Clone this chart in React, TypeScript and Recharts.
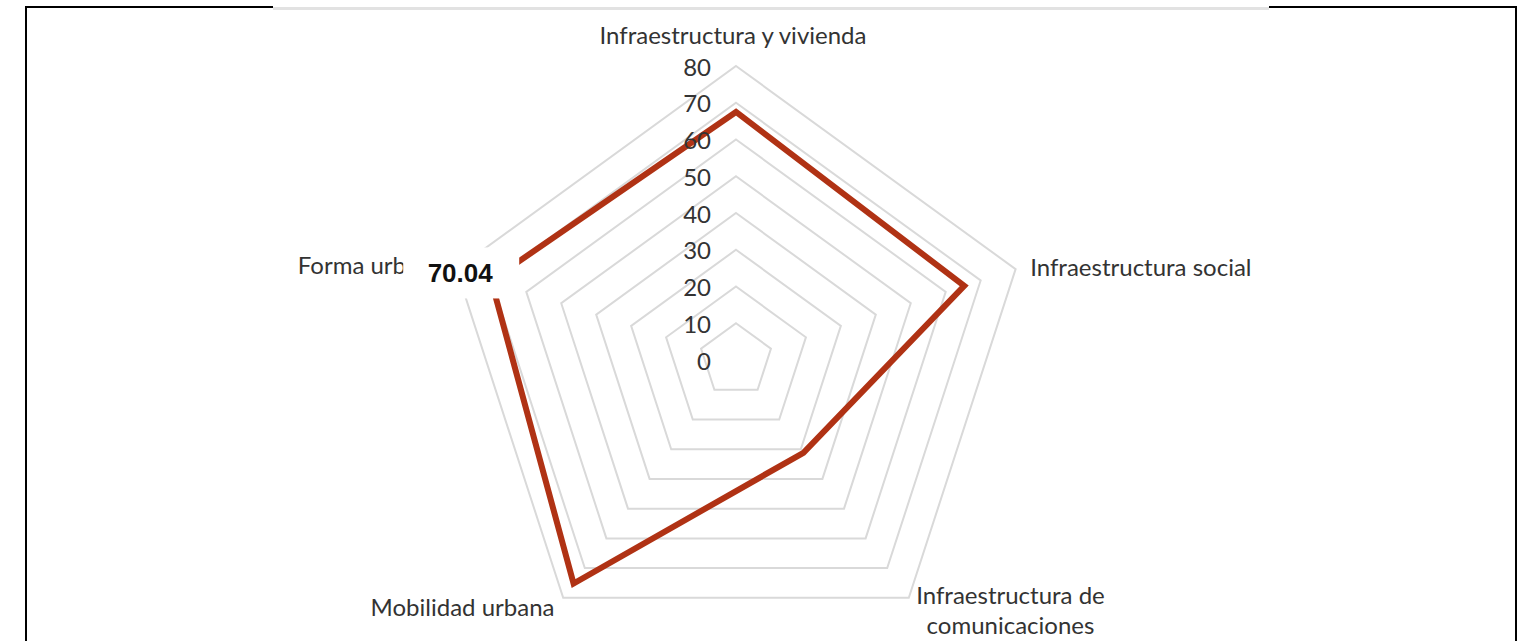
import React from 'react';
import {
  RadarChart, Radar, PolarGrid, PolarAngleAxis, PolarRadiusAxis, LabelList
} from 'recharts';

const categories = [
  'Infraestructura y vivienda',
  'Infraestructura social',
  'Infraestructura de comunicaciones',
  'Mobilidad urbana',
  'Forma urbana',
];
const values = [67.5, 65.3, 31.2, 75.2, 70.04];
const radiusTicks = [0, 10, 20, 30, 40, 50, 60, 70, 80];
const labelledCategory = 'Forma urbana';

const data = categories.map((name, i) => ({ name, value: values[i] }));

const FONT = 'Lato, "Open Sans", sans-serif';
const TEXT = '#333333';
const LINE = '#B03214';

function AngleTick(props: any) {
  const { x, y, payload } = props;
  const v = payload.value as string;
  const common = { fontFamily: FONT, fontSize: 24, fill: TEXT };
  if (v === 'Infraestructura y vivienda') {
    return <text {...common} x={x - 3} y={y - 24} textAnchor="middle" dominantBaseline="central">{v}</text>;
  }
  if (v === 'Infraestructura social') {
    return <text {...common} x={x + 7} y={y} textAnchor="start" dominantBaseline="central">{v}</text>;
  }
  if (v === 'Infraestructura de comunicaciones') {
    return (
      <text {...common} textAnchor="middle" dominantBaseline="central">
        <tspan x={x + 97} y={y - 10}>Infraestructura de</tspan>
        <tspan x={x + 97} y={y + 20}>comunicaciones</tspan>
      </text>
    );
  }
  if (v === 'Mobilidad urbana') {
    return <text {...common} x={x - 4} y={y + 2} textAnchor="end" dominantBaseline="central">{v}</text>;
  }
  return <text {...common} x={x - 151} y={y - 2} textAnchor="start" dominantBaseline="central">{v}</text>;
}

function RadiusTick(props: any) {
  const { x, y, payload } = props;
  return (
    <text x={x - 25} y={y} textAnchor="end" dominantBaseline="central"
      fontFamily={FONT} fontSize={24} fill={TEXT}>
      {payload.value}
    </text>
  );
}

function ValueLabel(props: any) {
  const { x, y, value, index } = props;
  if (categories[index] !== labelledCategory) return null;
  return (
    <g>
      <rect x={x - 88} y={y - 33} width={116} height={51} fill="#fff" />
      <text x={x - 31} y={y - 7} textAnchor="middle" dominantBaseline="central"
        fontFamily='"Liberation Sans", Arial, sans-serif' fontWeight="bold" fontSize={26} fill="#111">
        {Number(value).toFixed(2)}
      </text>
    </g>
  );
}

export default function App() {
  return (
    <div style={{ position: 'absolute', left: 0, top: 0, width: 1529, height: 641, background: '#fff', overflow: 'hidden' }}>
      {/* frame */}
      <div style={{ position: 'absolute', left: 25, top: 6, width: 2, height: 640, background: '#000' }} />
      <div style={{ position: 'absolute', left: 1515, top: 6, width: 2, height: 640, background: '#000' }} />
      <div style={{ position: 'absolute', left: 25, top: 6, width: 248, height: 2, background: '#000' }} />
      <div style={{ position: 'absolute', left: 273, top: 7, width: 996, height: 3, background: '#e2e2e2' }} />
      <div style={{ position: 'absolute', left: 1269, top: 6, width: 248, height: 2, background: '#000' }} />
      <div style={{ position: 'absolute', left: 0, top: 0 }}>
        <RadarChart width={1529} height={641} data={data} cx={736} cy={360} outerRadius={294}
          margin={{ top: 0, right: 0, bottom: 0, left: 0 }}>
          <PolarGrid gridType="polygon" radialLines={false} stroke="#d9d9d9" strokeWidth={2} />
          <PolarAngleAxis dataKey="name" tick={<AngleTick />} tickLine={false} axisLine={false} />
          <PolarRadiusAxis angle={90} domain={[0, 80]} ticks={radiusTicks as any} tickCount={9}
            axisLine={false} tickLine={false} tick={<RadiusTick />} />
          <Radar dataKey="value" stroke={LINE} strokeWidth={6} fill="none" fillOpacity={0}
            dot={false} isAnimationActive={false}>
            <LabelList dataKey="value" content={<ValueLabel />} />
          </Radar>
        </RadarChart>
      </div>
    </div>
  );
}
